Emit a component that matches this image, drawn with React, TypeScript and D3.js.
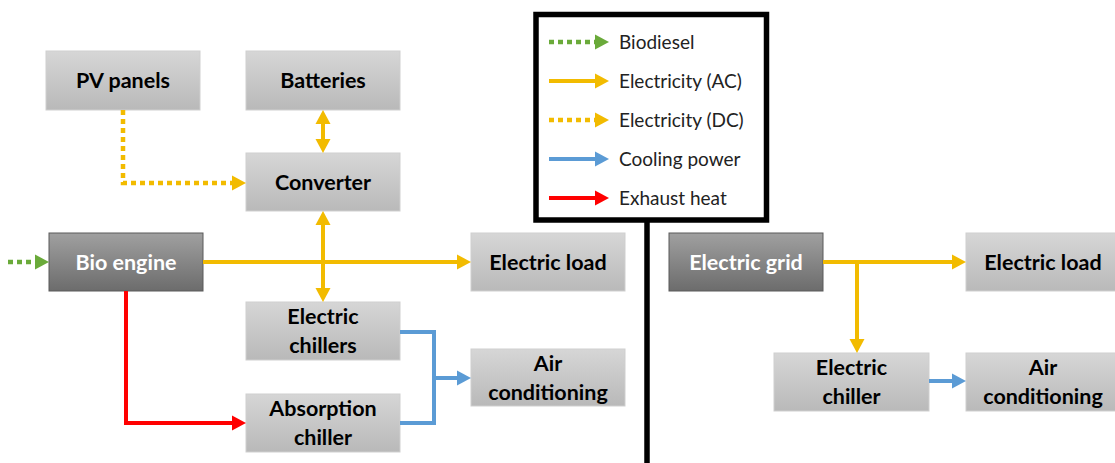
import React from "react";
import * as d3 from "d3";

// ---- Diagram content ----
const nodeIds = ["pv", "bat", "conv", "bio", "loadL", "chillL", "acL", "abs", "grid", "loadR", "chillR", "acR"];
const nodeLabels = [
  ["PV panels"],
  ["Batteries"],
  ["Converter"],
  ["Bio engine"],
  ["Electric load"],
  ["Electric", "chillers"],
  ["Air", "conditioning"],
  ["Absorption", "chiller"],
  ["Electric grid"],
  ["Electric load"],
  ["Electric", "chiller"],
  ["Air", "conditioning"],
];
const nodeDark = [false, false, false, true, false, false, false, false, true, false, false, false];

const legendLabels = ["Biodiesel", "Electricity (AC)", "Electricity (DC)", "Cooling power", "Exhaust heat"];
const legendKinds = ["bio", "ac", "dc", "cool", "heat"];

// ---- Layout (pixel positions) ----
const layout: Record<string, [number, number, number, number]> = {
  pv: [46, 51, 154, 59],
  bat: [246, 51, 154, 59],
  conv: [246, 153, 154, 58],
  bio: [49, 233, 154, 58],
  loadL: [471, 233, 154, 58],
  chillL: [246, 302, 154, 58],
  acL: [471, 349, 154, 57],
  abs: [246, 394, 154, 58],
  grid: [669, 233, 154, 58],
  loadR: [966, 233, 154, 58],
  chillR: [774, 353, 155, 58],
  acR: [966, 353, 154, 58],
};

const styles: Record<string, { color: string; dash?: string; width: number }> = {
  bio: { color: "#6aaa3a", dash: "5 4", width: 4.5 },
  ac: { color: "#f2bb00", width: 4 },
  dc: { color: "#f2bb00", dash: "5 4", width: 4.5 },
  cool: { color: "#5b9bd5", width: 4 },
  heat: { color: "#ff0000", width: 4 },
};

type Edge = { kind: string; pts: [number, number][]; start?: boolean; end?: boolean };
const edges: Edge[] = [
  { kind: "bio", pts: [[8, 262], [49, 262]], end: true },
  { kind: "dc", pts: [[123, 110], [123, 183], [246, 183]], end: true },
  { kind: "ac", pts: [[323, 110], [323, 153]], start: true, end: true },
  { kind: "ac", pts: [[323, 211], [323, 302]], start: true, end: true },
  { kind: "ac", pts: [[203, 262], [471, 262]], end: true },
  { kind: "heat", pts: [[126, 291], [126, 423], [246, 423]], end: true },
  { kind: "cool", pts: [[400, 332], [434, 332], [434, 423], [400, 423]] },
  { kind: "cool", pts: [[434, 378], [471, 378]], end: true },
  { kind: "ac", pts: [[823, 262], [966, 262]], end: true },
  { kind: "ac", pts: [[857, 262], [857, 353]], end: true },
  { kind: "cool", pts: [[929, 381], [966, 381]], end: true },
];

const HEAD_L = 14;
const HEAD_W = 15;

function trimmed(pts: [number, number][], start?: boolean, end?: boolean): [number, number][] {
  const p = pts.map((d) => [d[0], d[1]] as [number, number]);
  const shrink = (a: [number, number], b: [number, number]) => {
    const dx = b[0] - a[0], dy = b[1] - a[1];
    const len = Math.hypot(dx, dy);
    return [a[0] + (dx / len) * (len - HEAD_L + 1), a[1] + (dy / len) * (len - HEAD_L + 1)] as [number, number];
  };
  if (end) p[p.length - 1] = shrink(p[p.length - 2], p[p.length - 1]);
  if (start) p[0] = shrink(p[1], p[0]);
  return p;
}

function head(from: [number, number], tip: [number, number]) {
  const dx = tip[0] - from[0], dy = tip[1] - from[1];
  const len = Math.hypot(dx, dy);
  const ux = dx / len, uy = dy / len;
  const bx = tip[0] - ux * HEAD_L, by = tip[1] - uy * HEAD_L;
  const px = -uy * (HEAD_W / 2), py = ux * (HEAD_W / 2);
  return `${tip[0]},${tip[1]} ${bx + px},${by + py} ${bx - px},${by - py}`;
}

const line = d3.line<[number, number]>().x((d) => d[0]).y((d) => d[1]).curve(d3.curveLinear);

function Arrow({ e }: { e: Edge }) {
  const s = styles[e.kind];
  const p = trimmed(e.pts, e.start, e.end);
  const n = e.pts.length;
  return (
    <g>
      <path d={line(p) || ""} fill="none" stroke={s.color} strokeWidth={s.width} strokeDasharray={s.dash} strokeLinejoin="miter" />
      {e.end && <polygon points={head(e.pts[n - 2], e.pts[n - 1])} fill={s.color} />}
      {e.start && <polygon points={head(e.pts[1], e.pts[0])} fill={s.color} />}
    </g>
  );
}

export default function App() {
  const font = "Lato, 'Open Sans', sans-serif";
  const legendY = d3.scaleLinear().domain([0, 4]).range([42, 198]);
  return (
    <svg width={1115} height={463} style={{ position: "absolute", left: 0, top: 0 }} viewBox="0 0 1115 463">
      <defs>
        <linearGradient id="gLight" x1="0" y1="0" x2="0" y2="1">
          <stop offset="0" stopColor="#d6d6d6" />
          <stop offset="1" stopColor="#b9b9b9" />
        </linearGradient>
        <linearGradient id="gDark" x1="0" y1="0" x2="0" y2="1">
          <stop offset="0" stopColor="#a0a0a0" />
          <stop offset="1" stopColor="#6c6c6c" />
        </linearGradient>
      </defs>
      <rect width={1115} height={463} fill="#ffffff" />

      {/* legend box and divider */}
      <line x1={647} y1={220} x2={647} y2={463} stroke="#000" strokeWidth={5.5} />
      <rect x={536} y={14.5} width={230.5} height={205.5} fill="#fff" stroke="#000" strokeWidth={5.5} />
      {legendLabels.map((lab, i) => {
        const y = legendY(i);
        return (
          <g key={lab}>
            <Arrow e={{ kind: legendKinds[i], pts: [[549, y], [609, y]], end: true }} />
            <text x={619} y={y} dy="0.36em" fontFamily={font} fontSize={19} fill="#222">
              {lab}
            </text>
          </g>
        );
      })}

      {/* nodes */}
      {nodeIds.map((id, i) => {
        const [x, y, w, h] = layout[id];
        const dark = nodeDark[i];
        const lines = nodeLabels[i];
        const cy = y + h / 2;
        return (
          <g key={id}>
            <rect x={x} y={y} width={w} height={h} fill={dark ? "url(#gDark)" : "url(#gLight)"} stroke={dark ? "#5a5a5a" : "#cfcfcf"} strokeWidth={1} />
            {lines.map((t, j) => (
              <text
                key={j}
                x={x + w / 2}
                y={cy + (j - (lines.length - 1) / 2) * 29}
                dy="0.36em"
                textAnchor="middle"
                fontFamily={font}
                fontWeight={700}
                fontSize={21.5}
                fill={dark ? "#ffffff" : "#000000"}
              >
                {t}
              </text>
            ))}
          </g>
        );
      })}

      {/* edges */}
      {edges.map((e, i) => (
        <Arrow key={i} e={e} />
      ))}
    </svg>
  );
}
